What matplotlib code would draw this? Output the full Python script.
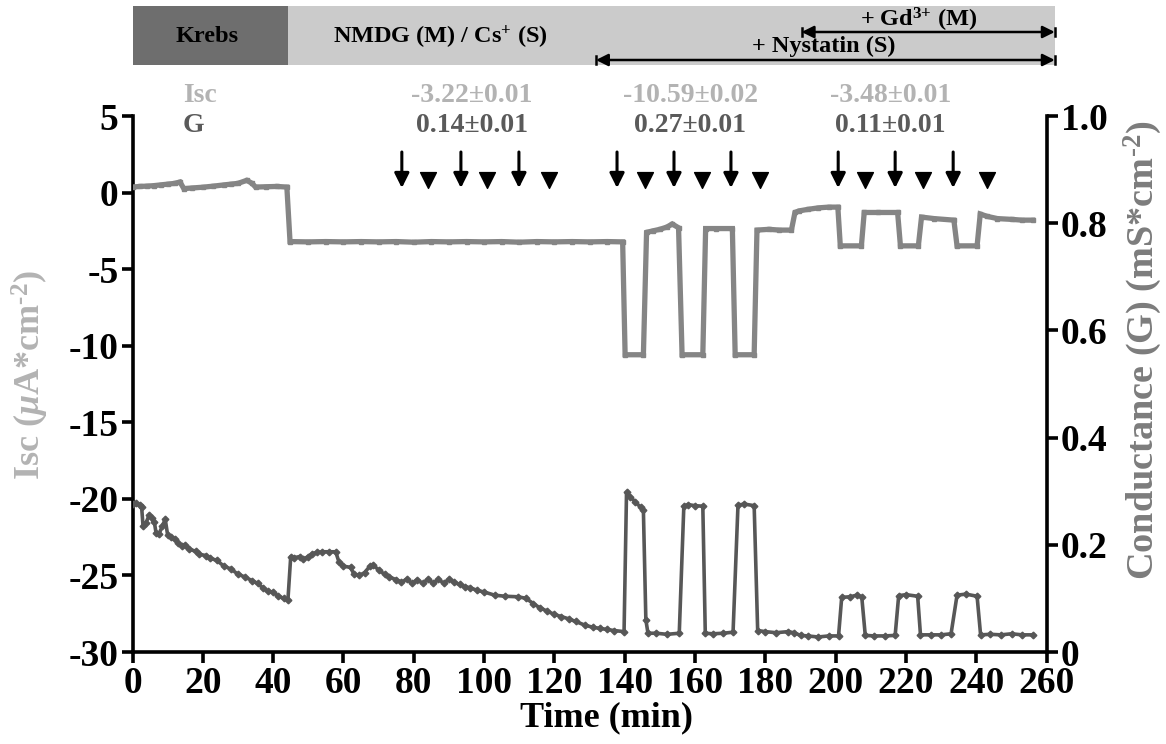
import matplotlib
matplotlib.use("Agg")
import matplotlib.pyplot as plt
import matplotlib.transforms as mtransforms
from matplotlib.patches import Rectangle

plt.rcParams["font.family"] = ["Liberation Serif", "DejaVu Serif"]
plt.rcParams["font.weight"] = "bold"
plt.rcParams["axes.unicode_minus"] = False
plt.rcParams["mathtext.fontset"] = "custom"
plt.rcParams["mathtext.rm"] = "Liberation Serif:bold"
plt.rcParams["mathtext.it"] = "Liberation Serif:italic:bold"
plt.rcParams["mathtext.bf"] = "Liberation Serif:bold"

# ---- short-circuit current (uA/cm2) ----
isc_t = [0, 2, 4, 6, 8, 10, 12, 13.5, 14.6, 17, 20, 23, 26, 28, 30, 32.5, 34, 35,
         38, 41, 43.9, 44.8, 50, 55, 60, 65, 70, 75, 80, 85, 90, 95, 100, 105, 110,
         115, 120, 125, 130, 135, 139.4, 140.1, 145.3, 146.2, 148, 150, 152, 153.5,
         155.3, 156.3, 162.2, 163, 166, 170.6, 171.4, 176.8, 177.6, 181, 184, 187.4,
         188.4, 189.5, 192, 195, 198, 200.6, 201.3, 207.3, 208.1, 212, 217.6, 218.4,
         223.5, 224.4, 228, 233.6, 234.5, 240.2, 241.1, 243, 246, 250, 253, 256]
isc_v = [0.36, 0.4, 0.42, 0.45, 0.5, 0.55, 0.6, 0.69, 0.26, 0.3, 0.35, 0.42, 0.5,
         0.55, 0.6, 0.8, 0.6, 0.36, 0.38, 0.4, 0.36, -3.2, -3.22, -3.2, -3.22, -3.2,
         -3.22, -3.2, -3.24, -3.2, -3.22, -3.2, -3.22, -3.2, -3.24, -3.2, -3.22, -3.2,
         -3.22, -3.2, -3.22, -10.59, -10.59, -2.6, -2.5, -2.4, -2.25, -2.05, -2.3,
         -10.59, -10.59, -2.35, -2.35, -2.35, -10.59, -10.59, -2.45, -2.4, -2.45,
         -2.45, -1.3, -1.2, -1.1, -1.0, -0.95, -0.95, -3.48, -3.48, -1.3, -1.3, -1.3,
         -3.48, -3.48, -1.6, -1.7, -1.8, -3.48, -3.48, -1.4, -1.55, -1.7, -1.75,
         -1.8, -1.8]

# ---- transepithelial conductance (mS/cm2) ----
g_t = [0, 1, 2, 2.6, 3.0, 3.8, 4.7, 5.5, 6.2, 6.7, 7.5, 8.5, 9.3, 10.0, 11, 12, 13,
       14, 15, 16, 18, 19, 21, 22, 24, 26, 28, 30, 32, 34, 35.6, 37, 38.5, 40, 41.5,
       43, 44.2, 45.0, 46, 47.5, 48.5, 50, 51, 52.5, 54, 56, 57.8, 58.7, 60, 62, 63,
       64.5, 66, 67.5, 68.5, 70, 71.7, 73, 75, 76.5, 78, 79.5, 81, 82.5, 84, 85.5,
       87, 88.5, 90, 91.5, 93, 94.5, 96, 98, 100, 103, 106, 109.7, 112, 114, 116,
       118, 120, 122, 124, 126, 128.7, 131, 133, 135, 137, 139.8, 140.5, 141.5, 143,
       144.5, 145.3, 146.0, 146.6, 149, 152, 155.5, 156.8, 158, 160, 162.2, 162.9,
       165, 168, 170.8, 172.2, 174, 176.8, 177.8, 180, 183, 186.5, 188, 190, 192,
       195, 198, 200.8, 201.7, 204, 206, 207.4, 208.4, 211, 214, 216.9, 217.9, 220,
       223.3, 224.1, 227, 230, 232.8, 234.5, 237, 240.2, 241.2, 244, 247, 250, 253,
       256]
g_v = [0.277, 0.278, 0.275, 0.27, 0.235, 0.24, 0.255, 0.25, 0.243, 0.222, 0.22,
       0.235, 0.248, 0.218, 0.215, 0.21, 0.203, 0.198, 0.2, 0.192, 0.188, 0.182,
       0.18, 0.175, 0.171, 0.16, 0.155, 0.145, 0.14, 0.133, 0.128, 0.12, 0.113,
       0.112, 0.104, 0.1, 0.097, 0.178, 0.176, 0.178, 0.173, 0.178, 0.183, 0.186,
       0.187, 0.187, 0.187, 0.168, 0.16, 0.158, 0.145, 0.143, 0.148, 0.16, 0.162,
       0.153, 0.145, 0.14, 0.135, 0.13, 0.136, 0.128, 0.135, 0.128, 0.136, 0.128,
       0.136, 0.128, 0.136, 0.13, 0.126, 0.122, 0.12, 0.115, 0.112, 0.106, 0.104,
       0.103, 0.1, 0.09, 0.082, 0.076, 0.07, 0.066, 0.062, 0.057, 0.05, 0.046,
       0.044, 0.042, 0.04, 0.038, 0.298, 0.29, 0.28, 0.27, 0.264, 0.06, 0.035,
       0.035, 0.033, 0.035, 0.272, 0.275, 0.273, 0.272, 0.035, 0.034, 0.035, 0.037,
       0.274, 0.276, 0.273, 0.04, 0.038, 0.036, 0.038, 0.036, 0.031, 0.03, 0.028,
       0.03, 0.03, 0.102, 0.103, 0.106, 0.103, 0.031, 0.03, 0.03, 0.031, 0.105,
       0.107, 0.104, 0.032, 0.032, 0.032, 0.034, 0.106, 0.108, 0.104, 0.032, 0.033,
       0.032, 0.034, 0.032, 0.032]

# ---- protocol ----
addition_times = [76.6, 93.4, 109.9, 137.8, 154.0, 170.2, 200.7, 216.9, 233.4]
washout_times = [84.0, 100.8, 118.5, 145.8, 162.0, 178.5, 208.3, 224.8, 243.0]
krebs_span = (0, 44.3)
nmdg_span = (44.3, 262.3)
nystatin_span = (131.8, 262.3)
gd_span = (190.3, 262.3)

stat_x = [96.6, 158.6, 215.5]
stat_isc = ["-3.22\u00b10.01", "-10.59\u00b10.02", "-3.48\u00b10.01"]
stat_g = ["0.14\u00b10.01", "0.27\u00b10.01", "0.11\u00b10.01"]

isc_ticks = [5, 0, -5, -10, -15, -20, -25, -30]
g_ticks = [0, 0.2, 0.4, 0.6, 0.8, 1.0]
time_ticks = list(range(0, 261, 20))

C_ISC = "#858585"
C_G = "#575757"
C_ISC_TXT = "#b3b3b3"
C_G_TXT = "#5a5a5a"

W, H = 1166, 744
AX_L, AX_B, AX_W, AX_H = 132.5, 652, 914.2, 536
fig = plt.figure(figsize=(W / 100, H / 100), dpi=100)
ax = fig.add_axes([AX_L / W, 1 - AX_B / H, AX_W / W, AX_H / H])
ax2 = ax.twinx()


def ay(y_px):
    """Axes-fraction height for a pixel row measured from the top."""
    return (AX_B - y_px) / AX_H


ax.plot(isc_t, isc_v, color=C_ISC, lw=3.8, marker="s", ms=3.5,
        solid_joinstyle="miter", zorder=3)
ax2.plot(g_t, g_v, color=C_G, lw=2.6, marker="D", ms=3.4, zorder=3)

ax.set_xlim(0, 260)
ax.set_ylim(-30, 5)
ax2.set_ylim(0, 1.0)
ax.set_xticks(time_ticks)
ax.set_yticks(isc_ticks)
ax2.set_yticks(g_ticks)
ax2.set_yticklabels(["0" if v == 0 else f"{v:.1f}" for v in g_ticks])

for a in (ax, ax2):
    a.patch.set_visible(False)
    for s in a.spines.values():
        s.set_linewidth(2.6)
    a.spines["top"].set_visible(False)
ax.spines["right"].set_visible(False)
ax2.spines["left"].set_visible(False)
ax2.spines["bottom"].set_visible(False)

ax.tick_params(axis="both", direction="out", length=8, width=2.6,
               labelsize=27, pad=2)
ax2.tick_params(axis="y", direction="out", length=8, width=2.6,
                labelsize=27, pad=2)
for lbl in ax.get_xticklabels() + ax.get_yticklabels() + ax2.get_yticklabels():
    lbl.set_fontweight("bold")

ax.set_xlabel("Time (min)", fontsize=26, fontweight="bold")
ax.xaxis.label.set_va("center")
ax.xaxis.set_label_coords((606 - AX_L) / AX_W, ay(718))
ax.set_ylabel("Isc ($\\mu$A*cm$^{\\text{-}2}$)", fontsize=26,
              fontweight="bold", color=C_ISC_TXT)
ax.yaxis.label.set_va("center")
ax.yaxis.set_label_coords((30 - AX_L) / AX_W, ay(375))
ax2.set_ylabel("Conductance (G) (mS*cm$^{\\text{-}2}$)", fontsize=27.5,
               fontweight="bold", color="#7c7c7c", rotation=90)
ax2.yaxis.label.set_va("center")
ax2.yaxis.set_label_coords((1143 - AX_L) / AX_W, ay(350))

# solution bars above the plot
trans = mtransforms.blended_transform_factory(ax.transData, ax.transAxes)
bar_y0, bar_y1 = ay(65), ay(6)
ax.add_patch(Rectangle((krebs_span[0], bar_y0), krebs_span[1] - krebs_span[0],
                       bar_y1 - bar_y0, transform=trans, facecolor="#6e6e6e",
                       edgecolor="none", clip_on=False))
ax.add_patch(Rectangle((nmdg_span[0], bar_y0), nmdg_span[1] - nmdg_span[0],
                       bar_y1 - bar_y0, transform=trans, facecolor="#cbcbcb",
                       edgecolor="none", clip_on=False))
ax.text(sum(krebs_span) / 2 - 1, ay(37), "Krebs", transform=trans,
        ha="center", va="center", fontsize=17.5, fontweight="bold")
ax.text(87.5, ay(37), "NMDG (M) / Cs$^{{+}}$ (S)", transform=trans,
        ha="center", va="center", fontsize=17.5, fontweight="bold")


def span_arrow(span, y_px, label, label_x, label_y_px):
    y = ay(y_px)
    ax.annotate("", xy=(span[1], y), xytext=(span[0], y), xycoords=trans,
                textcoords=trans,
                arrowprops=dict(arrowstyle="<|-|>", color="black", lw=1.8,
                                mutation_scale=18, shrinkA=0, shrinkB=0),
                annotation_clip=False)
    for xe in span:
        ax.plot([xe, xe], [y - 0.008, y + 0.008], transform=trans,
                color="black", lw=1.8, clip_on=False)
    ax.text(label_x, ay(label_y_px), label, transform=trans,
            ha="center", va="center", fontsize=17.5, fontweight="bold")


span_arrow(gd_span, 32, "+ Gd$^{3{+}}$ (M)", 223.5, 20)
span_arrow(nystatin_span, 60, "+ Nystatin (S)", 196.5, 46)

# summary values
ax.text(14.3, ay(95), "Isc", transform=trans, ha="left",
        va="center", fontsize=20, fontweight="bold", color=C_ISC_TXT)
ax.text(14.3, ay(125), "G", transform=trans, ha="left",
        va="center", fontsize=20, fontweight="bold", color=C_G_TXT)
for xs, si, sg in zip(stat_x, stat_isc, stat_g):
    ax.text(xs, ay(95), si, transform=trans, ha="center",
            va="center", fontsize=20, fontweight="bold", color=C_ISC_TXT)
    ax.text(xs, ay(125), sg, transform=trans, ha="center",
            va="center", fontsize=20, fontweight="bold", color=C_G_TXT)

# additions (arrows) and washouts (triangles)
y_top, y_tip = ay(152), ay(188)
for xa in addition_times:
    ax.annotate("", xy=(xa, y_tip), xytext=(xa, y_top), xycoords=trans,
                textcoords=trans,
                arrowprops=dict(arrowstyle="-|>", color="black", lw=2.2,
                                mutation_scale=22, shrinkA=0, shrinkB=0),
                annotation_clip=False)
ax.scatter(washout_times, [ay(180)] * len(washout_times),
           marker="v", s=130, color="black", transform=trans, clip_on=False,
           zorder=5)

fig.savefig("out.png", dpi=100)
